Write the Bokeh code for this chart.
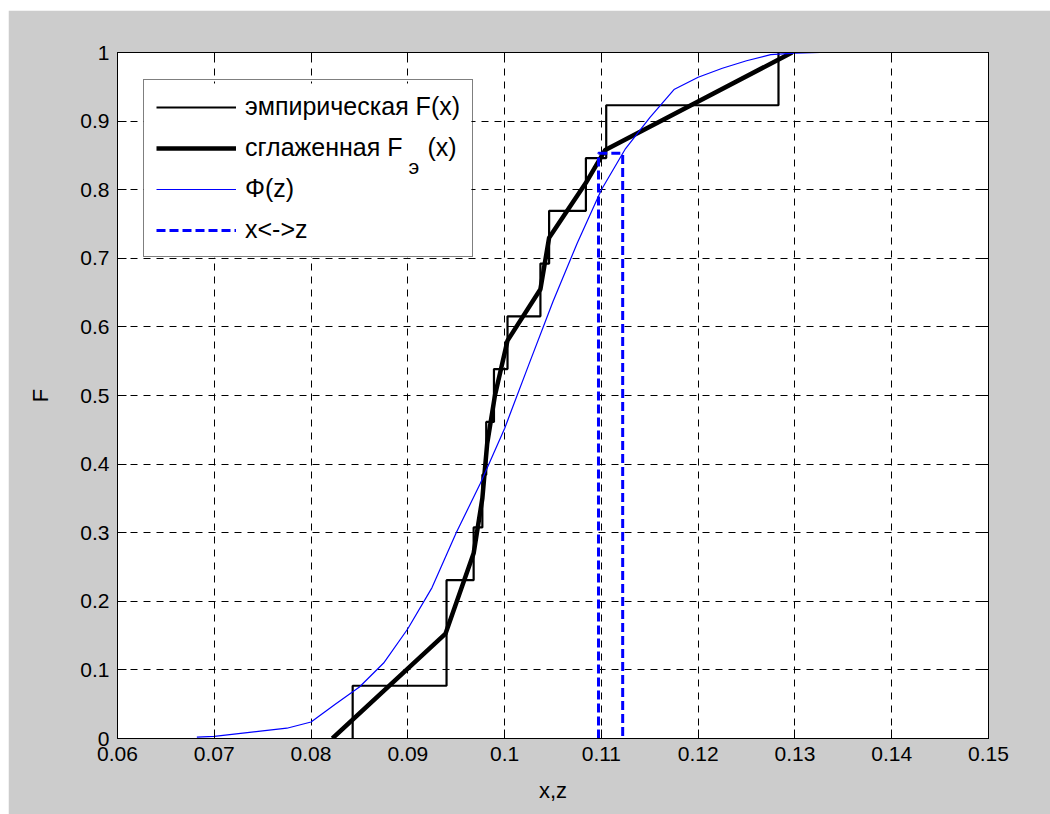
from bokeh.plotting import figure
from bokeh.models import (Legend, LegendItem, FixedTicker, LinearAxis, Label, Range1d,
                          Spacer, BoxAnnotation)
from bokeh.layouts import column, row
from bokeh.embed import file_html
from bokeh.resources import INLINE

# ---- data ----
samples = [0.0843, 0.0940, 0.0940, 0.0968, 0.0977, 0.0981, 0.0989,
           0.1003, 0.1037, 0.1046, 0.1084, 0.1105, 0.1283]

smooth_x = [0.0822, 0.0939, 0.0968, 0.0977, 0.0982, 0.0990, 0.1003,
            0.1037, 0.1046, 0.1084, 0.1104, 0.1297]
smooth_F = [0.000, 0.153, 0.270, 0.350, 0.430, 0.500, 0.580,
            0.655, 0.730, 0.810, 0.858, 1.000]

phi_x = [0.0682, 0.0700, 0.0725, 0.0750, 0.0775, 0.0800, 0.0825, 0.0850, 0.0875,
         0.0900, 0.0925, 0.0950, 0.0975, 0.1000, 0.1025, 0.1050, 0.1075, 0.1100,
         0.1125, 0.1150, 0.1175, 0.1200, 0.1225, 0.1250, 0.1275, 0.1300, 0.1326]
phi_F = [0.002, 0.003, 0.007, 0.011, 0.015, 0.024, 0.050, 0.075, 0.110,
         0.160, 0.220, 0.300, 0.372, 0.452, 0.545, 0.637, 0.722, 0.800,
         0.860, 0.905, 0.946, 0.964, 0.977, 0.988, 0.997, 0.999, 1.000]

link_x = [0.1097, 0.1097, 0.1122, 0.1122]
link_F = [0.000, 0.853, 0.853, 0.000]

x_ticks = [0.06, 0.07, 0.08, 0.09, 0.1, 0.11, 0.12, 0.13, 0.14, 0.15]
x_tick_labels = ["0.06", "0.07", "0.08", "0.09", "0.1", "0.11", "0.12", "0.13", "0.14", "0.15"]
y_ticks = [0, 0.1, 0.2, 0.3, 0.4, 0.5, 0.6, 0.7, 0.8, 0.9, 1]
y_tick_labels = ["0", "0.1", "0.2", "0.3", "0.4", "0.5", "0.6", "0.7", "0.8", "0.9", "1"]

legend_labels = ["эмпирическая F(x)", "сглаженная F\u2002\u2002(x)", "Φ(z)", "x<->z"]
subscript_text = "э"

# ---- empirical step function from samples ----
n = len(samples)
uniq = sorted(set(samples))
step_x, step_F = [], []
prev = 0.0
for u in uniq:
    cnt = sum(1 for s in samples if s <= u)
    step_x += [u, u]
    step_F += [prev, cnt / n]
    prev = cnt / n

FONT = "Liberation Sans"

p = figure(width=1042, height=804, x_range=Range1d(0.06, 0.15), y_range=Range1d(0, 1),
           output_backend="svg", toolbar_location=None,
           min_border_left=109, min_border_right=62, min_border_top=42, min_border_bottom=76,
           background_fill_color="white", border_fill_color="#cccccc")
p.outline_line_color = "black"
p.outline_line_width = 1

xt = FixedTicker(ticks=x_ticks)
yt = FixedTicker(ticks=y_ticks)
bottom_ax = p.below[0]
left_ax = p.left[0]
bottom_ax.ticker = xt
left_ax.ticker = yt
p.xgrid.ticker = xt
p.ygrid.ticker = yt
bottom_ax.major_label_overrides = {str(t): l for t, l in zip(x_ticks, x_tick_labels)}
left_ax.major_label_overrides = {str(t): l for t, l in zip(y_ticks, y_tick_labels)}
bottom_ax.axis_label = "x,z"
left_ax.axis_label = "F"

top_ax = LinearAxis(ticker=xt)
right_ax = LinearAxis(ticker=yt)
p.add_layout(top_ax, "above")
p.add_layout(right_ax, "right")

for ax in [bottom_ax, left_ax, top_ax, right_ax]:
    ax.major_tick_in = 9
    ax.major_tick_out = 0
    ax.minor_tick_line_color = None
    ax.axis_line_color = "black"
    ax.axis_line_width = 1
    ax.major_tick_line_color = "black"
    ax.major_label_text_font = FONT
    ax.major_label_text_font_size = "21px"
    ax.major_label_text_color = "black"
    ax.major_label_standoff = 8
    ax.axis_label_text_font = FONT
    ax.axis_label_text_font_size = "22px"
    ax.axis_label_text_font_style = "normal"
    ax.axis_label_text_color = "black"

top_ax.major_label_text_color = None
right_ax.major_label_text_color = None
bottom_ax.axis_label_standoff = 14
left_ax.axis_label_standoff = 24

for g in [p.xgrid[0], p.ygrid[0]]:
    g.grid_line_color = "black"
    g.grid_line_dash = "7 6"
    g.grid_line_width = 1

# white backing for the legend area (drawn over the grid, under the lines)
legend_bg = BoxAnnotation(left=0.06269, right=0.09657, bottom=0.7012, top=0.9548,
                          fill_color="white", fill_alpha=1, line_color=None,
                          level="underlay")
p.add_layout(legend_bg)

r_emp = p.line(step_x, step_F, line_color="black", line_width=2.2)
r_smooth = p.line(smooth_x, smooth_F, line_color="black", line_width=4.5)
r_phi = p.line(phi_x, phi_F, line_color="#0000ff", line_width=1.2)
r_link = p.line(link_x, link_F, line_color="#0000ff", line_width=3, line_dash="9 4")

legend = Legend(items=[LegendItem(label=legend_labels[0], renderers=[r_emp]),
                       LegendItem(label=legend_labels[1], renderers=[r_smooth]),
                       LegendItem(label=legend_labels[2], renderers=[r_phi]),
                       LegendItem(label=legend_labels[3], renderers=[r_link])],
                location=(26, 481), margin=0, padding=12, spacing=12,
                glyph_width=80, glyph_height=28, label_height=28, label_standoff=9,
                label_text_font=FONT, label_text_font_size="25px", label_text_color="black",
                border_line_color="black", border_line_width=1,
                background_fill_alpha=0)
p.add_layout(legend, "center")

# subscript of the legend label, placed just after "F" of the second legend row
sub = Label(x=0.09006, y=0.8338, text=subscript_text,
            text_font=FONT, text_font_size="21px", text_color="black",
            text_baseline="alphabetic", text_align="left")
p.add_layout(sub, "center")

layout = column(Spacer(height=10), row(Spacer(width=8), p))
open("out.html", "w").write(file_html(layout, INLINE))
